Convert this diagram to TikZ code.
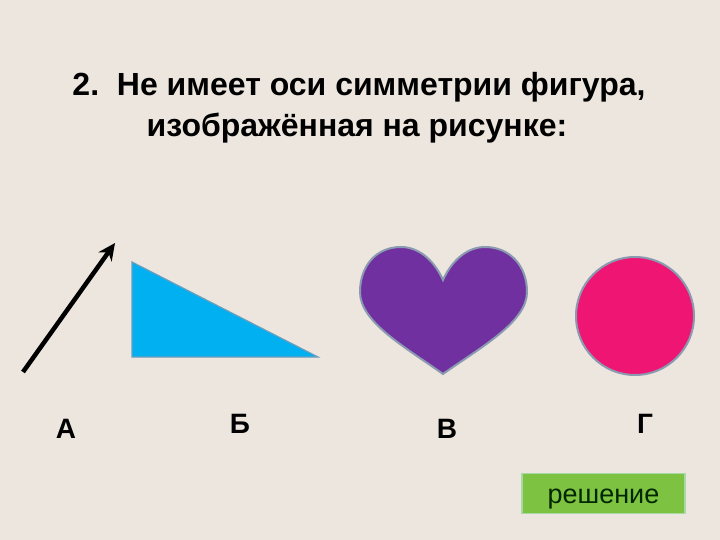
\documentclass[tikz,border=0pt]{standalone}
\usepackage{fontspec}
\setmainfont{Liberation Sans}
\usetikzlibrary{arrows.meta}
\definecolor{bg}{HTML}{ECE6DE}
\definecolor{tri}{HTML}{00B0F0}
\definecolor{heartc}{HTML}{7030A0}
\definecolor{circc}{HTML}{EE1672}
\definecolor{edgec}{HTML}{8A9AB0}
\definecolor{btn}{HTML}{7EC242}
\tikzset{
  lbl/.style={font=\fontsize{28}{32}\selectfont\bfseries, text=black, anchor=base},
  ttl/.style={font=\fontsize{32}{38}\selectfont\bfseries, text=black, anchor=base},
  shapeedge/.style={draw=edgec, line width=2pt},
}
\begin{document}
\begin{tikzpicture}[x=1pt,y=-1pt]
\fill[bg] (0,0) rectangle (720,540);
\useasboundingbox (0,0) rectangle (720,540);
\node[ttl] (title1) at (359,96) {2.\ \ Не имеет оси симметрии фигура,};
\node[ttl] (title2) at (357,137) {изображённая на рисунке:};
% A: vector
\coordinate (at) at (23,372);
\coordinate (ah) at (115,243);
\draw[line width=4.5pt, -{Stealth[length=17pt,width=16pt]}] (at) -- (ah);
% B: triangle
\coordinate (t1) at (132,262);
\coordinate (t2) at (132,357);
\coordinate (t3) at (318,357);
\filldraw[fill=tri, draw=edgec!80!tri, line width=1.2pt] (t1) -- (t2) -- (t3) -- cycle;
% V: heart
\filldraw[fill=heartc, shapeedge]
  (443,280) .. controls (433,258) and (417,247) .. (401,247)
  .. controls (376,247) and (360,266) .. (360,292)
  .. controls (360,322) and (405,347) .. (443,374)
  .. controls (481,347) and (527,322) .. (527,292)
  .. controls (527,266) and (510,247) .. (485,247)
  .. controls (469,247) and (453,258) .. (443,280) -- cycle;
% G: circle
\node[circle, fill=circc, shapeedge, minimum size=118pt, inner sep=0pt] (circ) at (635,316) {};
% labels
\node[lbl] (la) at (66,438) {А};
\node[lbl] (lb) at (240,433) {Б};
\node[lbl] (lv) at (447,438) {В};
\node[lbl] (lg) at (645,433) {Г};
% button
\node[draw=gray!60!green!50!white, line width=1.2pt, fill=btn, minimum width=163pt, minimum height=40pt, inner sep=0pt,
  text height=19pt, text depth=0pt,
  font=\fontsize{27}{30}\selectfont, text=black!85!green] (btn) at (603.5,493.5) {решение};
\end{tikzpicture}
\end{document}
